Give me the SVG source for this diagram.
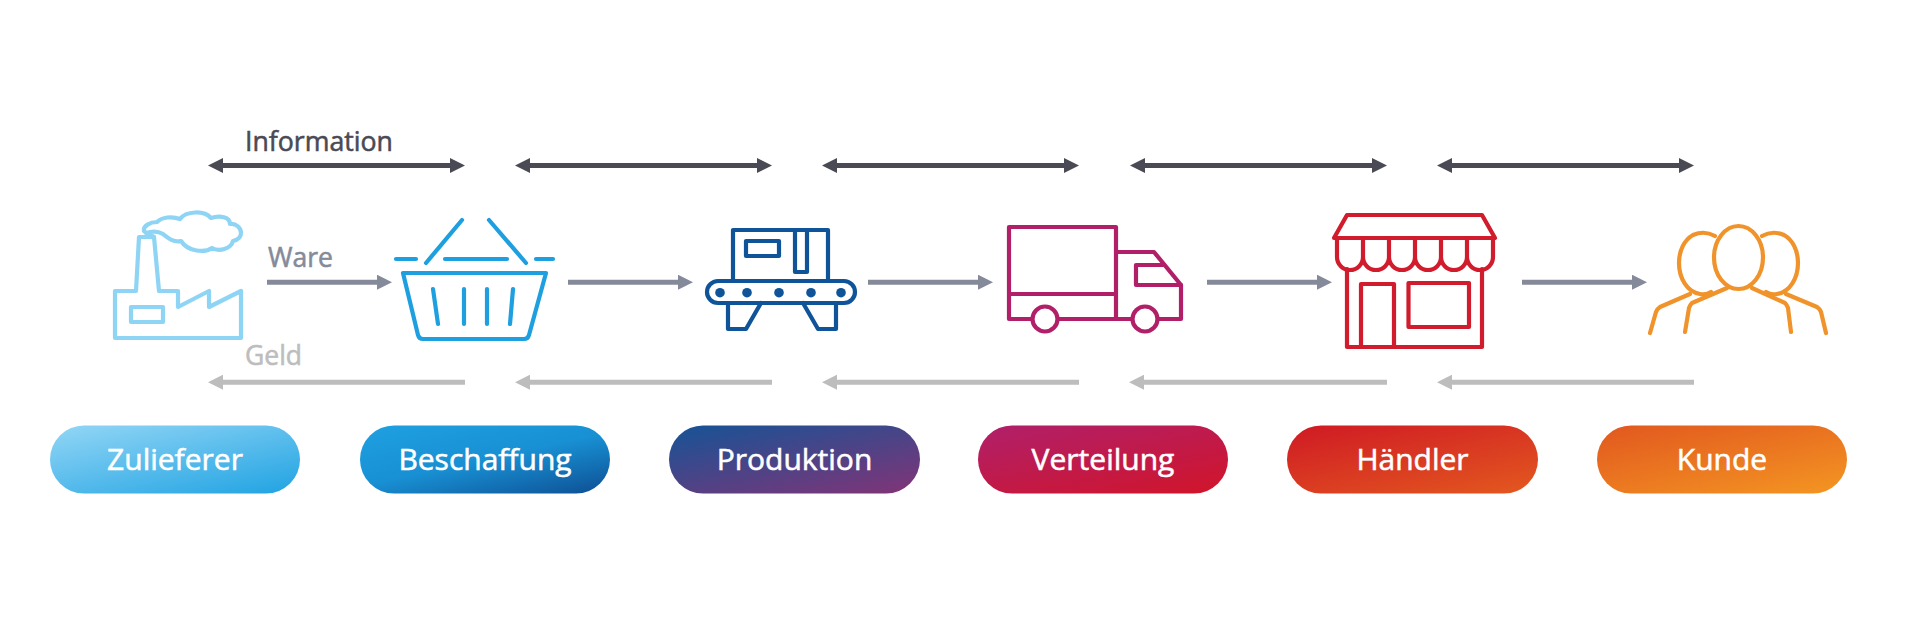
<svg xmlns="http://www.w3.org/2000/svg" width="1920" height="640" viewBox="0 0 1920 640">
<style>
text{font-family:"Open Sans","Noto Sans","Liberation Sans",sans-serif;stroke-width:.55}
.pt{font-size:30px;fill:#fff;stroke:#fff;text-anchor:middle}
.ic{fill:none;stroke-width:4.2;stroke-linejoin:round;stroke-linecap:round}
.i{stroke:#4a4a55;stroke-width:5;fill:none;marker-start:url(#hiS);marker-end:url(#hiE)}
.w{stroke:#858a9b;stroke-width:5;fill:none;marker-end:url(#hw)}
.g{stroke:#bdbdbd;stroke-width:5;fill:none;marker-start:url(#hgS)}
</style>
<defs>
<marker id="hiE" markerUnits="userSpaceOnUse" markerWidth="15" markerHeight="15" refX="5" refY="7.5" orient="auto"><path d="M0 0L15 7.500L0 15z" fill="#4a4a55"/></marker>
<marker id="hiS" markerUnits="userSpaceOnUse" markerWidth="15" markerHeight="15" refX="10" refY="7.5" orient="auto"><path d="M15 0L0 7.500L15 15z" fill="#4a4a55"/></marker>
<marker id="hw" markerUnits="userSpaceOnUse" markerWidth="15" markerHeight="15" refX="5" refY="7.5" orient="auto"><path d="M0 0L15 7.500L0 15z" fill="#858a9b"/></marker>
<marker id="hgS" markerUnits="userSpaceOnUse" markerWidth="15" markerHeight="15" refX="10" refY="7.5" orient="auto"><path d="M15 0L0 7.500L15 15z" fill="#bdbdbd"/></marker>
<linearGradient id="g1" x1="0.1" y1="0" x2="0.9" y2="1"><stop offset="0" stop-color="#8ed4f5"/><stop offset="1" stop-color="#25a5e3"/></linearGradient>
<linearGradient id="g2" x1="0.1" y1="0" x2="0.9" y2="1"><stop offset="0" stop-color="#1e9fe0"/><stop offset="0.5" stop-color="#1890d3"/><stop offset="1" stop-color="#0f5499"/></linearGradient>
<linearGradient id="g3" x1="0.1" y1="0" x2="0.9" y2="1"><stop offset="0" stop-color="#1a5295"/><stop offset="1" stop-color="#7d3578"/></linearGradient>
<linearGradient id="g4" x1="0.1" y1="0" x2="0.9" y2="1"><stop offset="0" stop-color="#b11f68"/><stop offset="1" stop-color="#d0152c"/></linearGradient>
<linearGradient id="g5" x1="0.1" y1="0" x2="0.9" y2="1"><stop offset="0" stop-color="#d01c24"/><stop offset="1" stop-color="#e2561f"/></linearGradient>
<linearGradient id="g6" x1="0.1" y1="0" x2="0.9" y2="1"><stop offset="0" stop-color="#e25a1f"/><stop offset="1" stop-color="#f39322"/></linearGradient>
</defs>
<rect width="1920" height="640" fill="#fff"/>
<g id="connectors">
<path class="i" d="M218 165.500H455"/><path class="i" d="M525 165.500H762"/><path class="i" d="M832 165.500H1069"/><path class="i" d="M1140 165.500H1377"/><path class="i" d="M1447 165.500H1684"/>
<path class="w" d="M267 282.200H382"/><path class="w" d="M568 282.200H683"/><path class="w" d="M868 282.200H983"/><path class="w" d="M1207 282.200H1322"/><path class="w" d="M1522 282.200H1637"/>
<path class="g" d="M218 382.200H465"/><path class="g" d="M525 382.200H772"/><path class="g" d="M832 382.200H1079"/><path class="g" d="M1139 382.200H1387"/><path class="g" d="M1447 382.200H1694"/>
</g>
<g id="labels">
<text x="245" y="151" font-size="26.700" fill="#4a4a55" stroke="#4a4a55">Information</text>
<text x="268" y="267" font-size="26.500" fill="#858a9b" stroke="#858a9b">Ware</text>
<text x="245" y="365" font-size="26.500" fill="#bdbdbd" stroke="#bdbdbd">Geld</text>
</g>
<g id="zulieferer">
<g class="ic" stroke="#8ed4f5">
<path d="M115 338V291H136L139 237H154L159 291H178V307L209 291V307L241 291V338Z"/>
<rect x="131" y="307" width="32" height="15"/>
<path d="M154 237C150 234 146 234 144 231C143 226 150 222 157 222C162 217 172 216 180 219C186 211 204 210 211 218C220 215 230 217 230 224C236 223 241 228 241 233C241 238 237 240 233 241C231 249 219 252 212 248C205 253 188 252 181 241C174 243 168 238 163 234C158 231 152 231 146 233"/>
</g>
<rect x="50" y="425.500" width="250" height="68" rx="34" fill="url(#g1)"/>
<text class="pt" x="175" y="470">Zulieferer</text>
</g>
<g id="beschaffung">
<g class="ic" stroke="#1e9fe0">
<path d="M462 220L426 263M489 220L526 263M396 259H416M445 259H507M536 259H553"/>
<path d="M403 273H546L529 335Q528 339 524 339H423Q419 339 418 335Z"/>
<path d="M433 289L438 324M464 289V324M487 289V324M513 289L510 324"/>
</g>
<rect x="360" y="425.500" width="250" height="68" rx="34" fill="url(#g2)"/>
<text class="pt" x="485" y="470">Beschaffung</text>
</g>
<g id="produktion">
<g class="ic" stroke="#0f5499">
<path d="M733 281V230H828V281"/>
<rect x="746" y="241" width="33" height="15"/>
<path d="M795 230V272H807V230"/>
<rect x="707" y="281" width="148" height="22" rx="11"/>
<path d="M728 303V329H746L761 303M803 303L818 329H836V303"/>
<g fill="#0f5499" stroke="none"><circle cx="720" cy="292.700" r="4.800"/><circle cx="747" cy="292.700" r="4.800"/><circle cx="779" cy="292.700" r="4.800"/><circle cx="811" cy="292.700" r="4.800"/><circle cx="841" cy="292.700" r="4.800"/></g>
</g>
<rect x="669" y="425.500" width="251" height="68" rx="34" fill="url(#g3)"/>
<text class="pt" x="794.500" y="470">Produktion</text>
</g>
<g id="verteilung">
<g class="ic" stroke="#b11f68">
<path d="M1032 319H1009V227H1116V319H1132M1009 294H1116M1058 319H1116M1158 319H1181V285L1154 252H1116"/>
<path d="M1181 285H1136V265H1163"/>
<circle cx="1045" cy="319" r="12.500"/><circle cx="1145" cy="319" r="12.500"/>
</g>
<rect x="978" y="425.500" width="250" height="68" rx="34" fill="url(#g4)"/>
<text class="pt" x="1103" y="470">Verteilung</text>
</g>
<g id="haendler">
<g class="ic" stroke="#d01c2c">
<path d="M1347 215H1482L1495 238H1334Z"/>
<path d="M1337 238V257A13 13 0 0 0 1363 257V238M1363 257A13 13 0 0 0 1389 257V238M1389 257A13 13 0 0 0 1415 257V238M1415 257A13 13 0 0 0 1441 257V238M1441 257A13 13 0 0 0 1467 257V238M1467 257A13 13 0 0 0 1493 257V238"/>
<path d="M1347 269V347H1482V269"/>
<path d="M1361 347V284H1394V347"/>
<rect x="1408.500" y="283" width="60.500" height="44"/>
</g>
<rect x="1287" y="425.500" width="251" height="68" rx="34" fill="url(#g5)"/>
<text class="pt" x="1412.500" y="470">Händler</text>
</g>
<g id="kunde">
<g class="ic" stroke="#f0932a">
<ellipse cx="1738.500" cy="257.500" rx="24.500" ry="31.500"/>
<path d="M1715 236C1708 232 1700 232 1693 235C1684 240 1679 251 1679 263C1679 278 1687 292 1700 294C1704 295 1708 294 1711 292"/>
<path d="M1762 236C1769 232 1777 232 1784 235C1793 240 1798 251 1798 263C1798 278 1790 292 1777 294C1773 295 1769 294 1766 292"/>
<path d="M1690 294L1660 307Q1657 309 1656 312L1650 333M1727 288L1692 303Q1690 305 1689 308L1685 332"/>
<path d="M1752 288L1785 303Q1787 305 1788 308L1791 332M1786 294L1817 307Q1820 309 1821 312L1826 333"/>
</g>
<rect x="1597" y="425.500" width="250" height="68" rx="34" fill="url(#g6)"/>
<text class="pt" x="1722" y="470">Kunde</text>
</g>
</svg>
